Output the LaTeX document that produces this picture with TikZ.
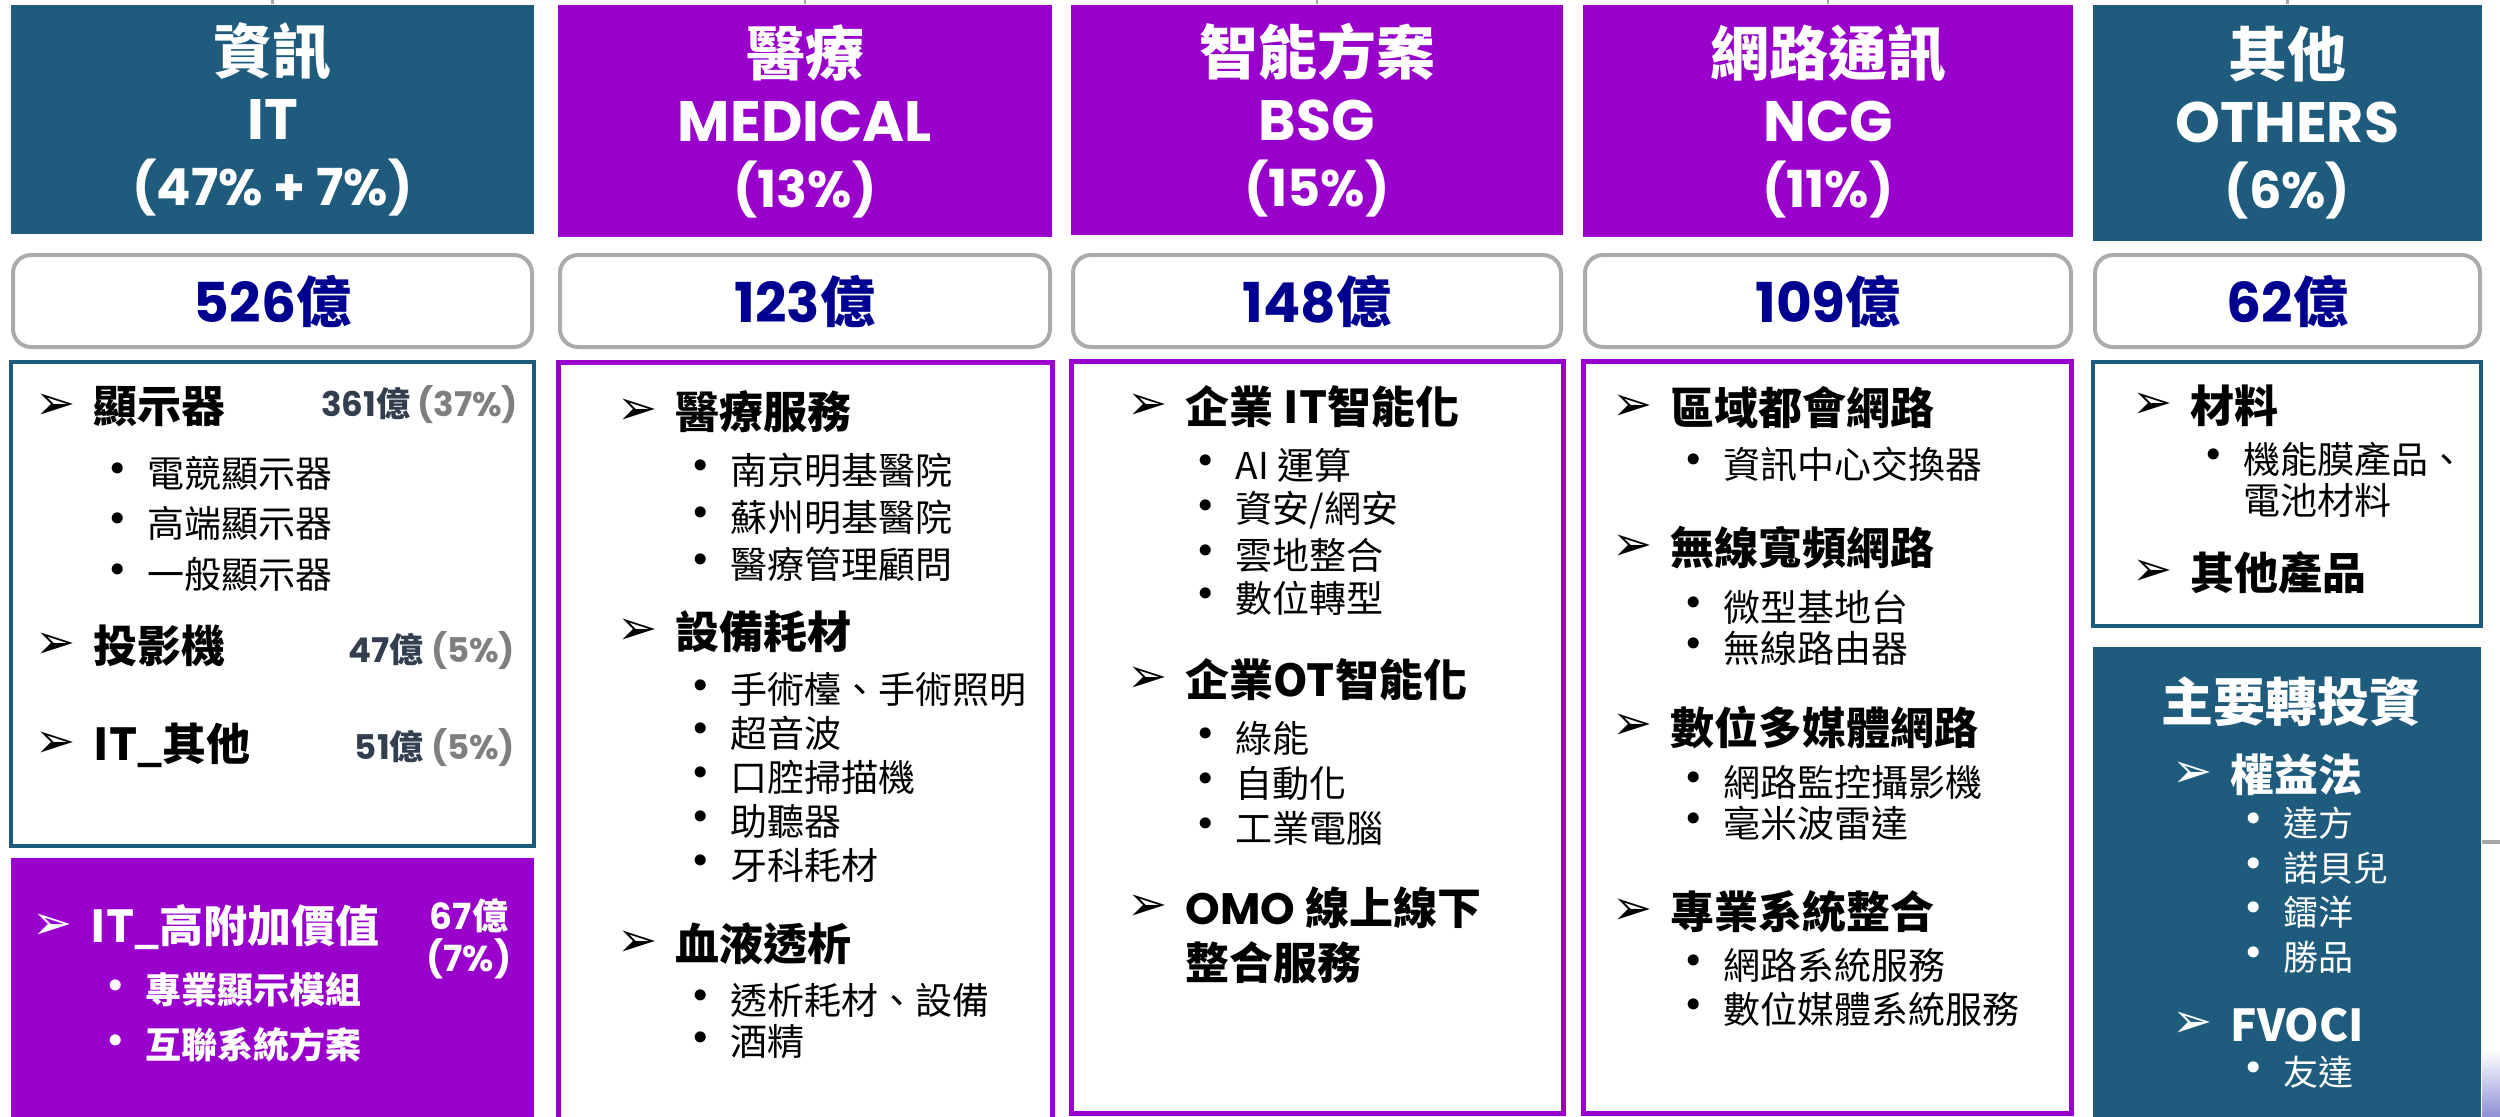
\documentclass[tikz,border=0pt]{standalone}
\usepackage{fontspec}
\setmainfont{Poppins}
\newfontfamily\cjk{Noto Sans CJK TC}
\newfontfamily\dv{DejaVu Sans}

\definecolor{itblue}{HTML}{1F5B7C}
\definecolor{medpurple}{HTML}{9900CC}
\definecolor{amtnavy}{HTML}{000090}
\definecolor{boxgray}{HTML}{ABABAB}
\definecolor{numdark}{HTML}{333F4F}
\definecolor{numgray}{HTML}{7F7F7F}
\definecolor{stubgray}{HTML}{A6A6A6}

\tikzset{
  hdr/.style={text=white, align=center, inner sep=0, font=\bfseries\fontsize{14.25}{16.5}\selectfont},
  amt/.style={draw=boxgray, line width=1pt, rounded corners=4.5pt, fill=white, text=amtnavy, inner sep=0, font=\bfseries\fontsize{13.75}{16}\selectfont},
  sec/.style={anchor=west, inner sep=0, font=\cjk\bfseries\fontsize{11}{13}\selectfont},
  itm/.style={anchor=west, inner sep=0, font=\cjk\fontsize{9.25}{11}\selectfont},
  arr/.style={anchor=west, inner sep=0},
  dot/.style={anchor=west, inner sep=0},
  num/.style={anchor=east, inner sep=0, font=\bfseries\fontsize{8.5}{10}\selectfont},
  wsub/.style={text=white, font=\cjk\bfseries\fontsize{9}{11}\selectfont},
  inv/.style={text=white, font=\cjk\fontsize{8.75}{10}\selectfont},
  stub/.style={draw=stubgray, line width=0.6pt}
}

% arrow line: [opts]{name}{x}{y}{text}
\newcommand{\secline}[5][]{%
  \node[arr,#1,font=\dv\fontsize{12}{13}\selectfont] (#2a) at (#3,#4) {➢};
  \node[sec,#1] (#2) at (#3+58,#4) {#5};%
}
% bullet line: [opts]{name}{x}{y}{text}
\newcommand{\subline}[5][]{%
  \node[dot,#1,font=\dv\fontsize{9.5}{11}\selectfont] (#2d) at (#3-8,#4) {•};
  \node[itm,#1] (#2) at (#3+33,#4) {#5};%
}

\begin{document}
\begin{tikzpicture}[x=0.25pt, y=-0.25pt]
  \def\gu{0.25pt}
  \useasboundingbox (0,0) rectangle (2500,1116);
  \clip (0,0) rectangle (2500,1116);
  % Headers and totals
  \foreach \n/\xa/\xb/\yb/\col/\zh/\en/\pc/\amt in {
      IT/11/534/234/itblue/資訊/IT/47\% + 7\%/526,
      MED/558/1052/237/medpurple/醫療/MEDICAL/13\%/123,
      BSG/1071/1563/235/medpurple/智能方案/BSG/15\%/148,
      NCG/1583/2073/237/medpurple/網路通訊/NCG/11\%/109,
      OTH/2093/2482/241/itblue/其他/OTHERS/6\%/62}{
    \node[hdr, fill=\col, minimum width=(\xb-\xa)*\gu, minimum height=(\yb-5)*\gu] (h\n) at ({(\xa+\xb)/2},{(\yb+5)/2}) {{\cjk\fontsize{14.75}{16.5}\selectfont\zh}\\\en\\{\fontsize{12.75}{16.5}\selectfont(\pc)}};
    \node[amt, minimum width=(\xb-\xa-4)*\gu, minimum height=92*\gu] (a\n) at ({(\xa+\xb)/2},301) {\amt{\cjk 億}};
    \coordinate (t\n) at ({(\xa+\xb)/2},0);
    \draw[stub] (t\n) -- (h\n.north);
  }
  \coordinate (rs1) at (2482,842);
  \coordinate (rs2) at (2500,842);
  \draw[stub, line width=1pt] (rs1) -- (rs2);
  \shade[top color=white, bottom color=blue!45!gray!60] (2482,1050) rectangle (2500,1116);

  % Frames
  \draw[itblue, line width=1pt] (11,362) rectangle (534,846);
  \fill[medpurple] (11,858) rectangle (534,1130);
  \draw[medpurple, line width=1.25pt] (558,362) rectangle (1052,1130);
  \draw[medpurple, line width=1.25pt] (1071,361) rectangle (1563,1113);
  \draw[medpurple, line width=1.25pt] (1583,361) rectangle (2071,1113);
  \draw[itblue, line width=1pt] (2093,362) rectangle (2481,626);
  \fill[itblue] (2093,647) rectangle (2481,1130);

  % IT
  \secline{it1}{35}{407}{顯示器}
  \node[num] (v1) at (519,405) {\textcolor{numdark}{361{\cjk 億}} \textcolor{numgray}{(37\%)}};
  \subline{it1x}{114}{473}{電競顯示器}
  \subline{it1y}{114}{523}{高端顯示器}
  \subline{it1z}{114}{574}{一般顯示器}
  \secline{it2}{35}{646}{投影機}
  \node[num] (v2) at (516,651) {\textcolor{numdark}{47{\cjk 億}} \textcolor{numgray}{(5\%)}};
  \secline{it3}{35}{745}{IT\_其他}
  \node[num] (v3) at (516,748) {\textcolor{numdark}{51{\cjk 億}} \textcolor{numgray}{(5\%)}};
  \secline[text=white]{it4}{32}{927}{IT\_高附加價值}
  \node[text=white, align=center, inner sep=0, font=\bfseries\fontsize{9}{10.5}\selectfont] (v4) at (469,939) {67{\cjk 億}\\(7\%)};
  \subline[wsub]{it4x}{112}{990}{專業顯示模組}
  \subline[wsub]{it4y}{112}{1045}{互聯系統方案}

  % MEDICAL
  \secline{md1}{617}{412}{醫療服務}
  \subline{md1x}{697}{470}{南京明基醫院}
  \subline{md1y}{697}{517}{蘇州明基醫院}
  \subline{md1z}{697}{564}{醫療管理顧問}
  \secline{md2}{617}{632}{設備耗材}
  \subline{md2a}{697}{690}{手術檯、手術照明}
  \subline{md2b}{697}{733}{超音波}
  \subline{md2c}{697}{777}{口腔掃描機}
  \subline{md2e}{697}{821}{助聽器}
  \subline{md2f}{697}{865}{牙科耗材}
  \secline{md3}{617}{944}{血液透析}
  \subline{md3x}{697}{1000}{透析耗材、設備}
  \subline{md3y}{697}{1042}{酒精}

  % BSG
  \secline{bs1}{1127}{407}{企業 IT智能化}
  \subline{bs1a}{1202}{465}{AI 運算}
  \subline{bs1b}{1202}{510}{資安/網安}
  \subline{bs1c}{1202}{555}{雲地整合}
  \subline{bs1e}{1202}{598}{數位轉型}
  \secline{bs2}{1127}{680}{企業OT智能化}
  \subline{bs2a}{1202}{738}{綠能}
  \subline{bs2b}{1202}{783}{自動化}
  \subline{bs2c}{1202}{828}{工業電腦}
  \secline{bs3}{1127}{908}{{\rmfamily OMO} 線上線下}
  \node[sec] (bs3l) at (1185,963) {整合服務};

  % NCG
  \secline{nc1}{1612}{408}{區域都會網路}
  \subline{nc1a}{1690}{464}{資訊中心交換器}
  \secline{nc2}{1612}{548}{無線寬頻網路}
  \subline{nc2a}{1690}{607}{微型基地台}
  \subline{nc2b}{1690}{648}{無線路由器}
  \secline{nc3}{1612}{727}{數位多媒體網路}
  \subline{nc3a}{1690}{782}{網路監控攝影機}
  \subline{nc3b}{1690}{823}{毫米波雷達}
  \secline{nc4}{1612}{912}{專業系統整合}
  \subline{nc4a}{1690}{965}{網路系統服務}
  \subline{nc4b}{1690}{1009}{數位媒體系統服務}

  % OTHERS
  \secline{ot1}{2132}{406}{材料}
  \subline{ot1a}{2210}{459}{機能膜產品、}
  \node[itm] (ot1l) at (2243,500) {電池材料};
  \secline{ot2}{2132}{573}{其他產品}
  \node[text=white, inner sep=0, font=\cjk\bfseries\fontsize{13}{15}\selectfont] (inv) at (2291,702) {主要轉投資};
  \secline[text=white, sec/.append style={font=\cjk\bfseries\fontsize{10.5}{12}\selectfont}]{iv1}{2172}{775}{權益法}
  \subline[inv]{iv1a}{2250}{823}{達方}
  \subline[inv]{iv1b}{2250}{868}{諾貝兒}
  \subline[inv]{iv1c}{2250}{912}{鐳洋}
  \subline[inv]{iv1e}{2250}{957}{勝品}
  \secline[text=white, sec/.append style={font=\rmfamily\bfseries\fontsize{10.5}{12}\selectfont}]{iv2}{2172}{1025}{FVOCI}
  \subline[inv]{iv2a}{2250}{1072}{友達}
\end{tikzpicture}
\end{document}
